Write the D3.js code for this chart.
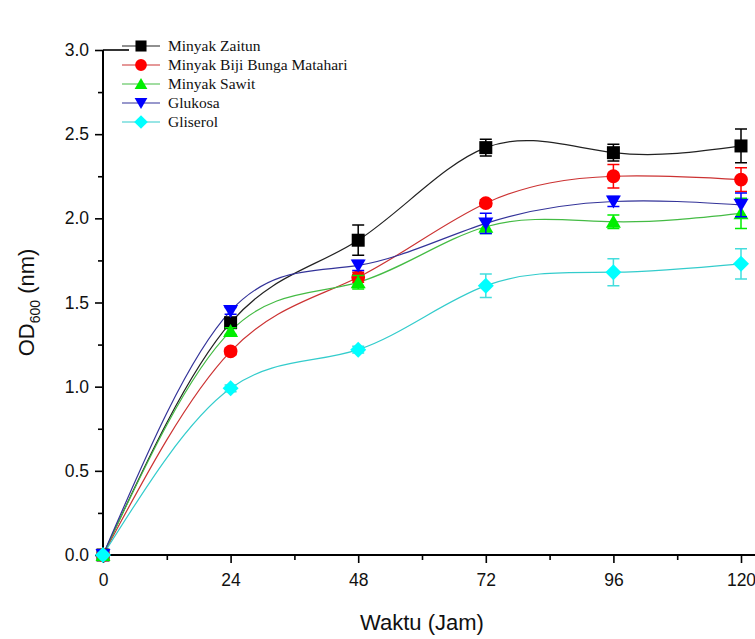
<!DOCTYPE html>
<html>
<head>
<meta charset="utf-8">
<script src="https://cdn.jsdelivr.net/npm/d3@7"></script>
<style>
  body { margin: 0; background: #fff; }
  svg { display: block; }
</style>
</head>
<body>
<div id="chart"></div>
<script>
// Data
var hours = [0, 24, 48, 72, 96, 120];
var seriesNames = ["Minyak Zaitun", "Minyak Biji Bunga Matahari", "Minyak Sawit", "Glukosa", "Gliserol"];
var zaitun = [0, 1.38, 1.87, 2.42, 2.39, 2.43];
var zaitunErr = [0, 0.03, 0.09, 0.05, 0.05, 0.10];
var bijiBunga = [0, 1.21, 1.65, 2.09, 2.25, 2.23];
var bijiBungaErr = [0, 0.02, 0.03, 0.02, 0.07, 0.07];
var sawit = [0, 1.33, 1.62, 1.95, 1.98, 2.03];
var sawitErr = [0, 0.02, 0.04, 0.04, 0.04, 0.09];
var glukosa = [0, 1.45, 1.72, 1.97, 2.10, 2.08];
var glukosaErr = [0, 0.02, 0.03, 0.06, 0.03, 0.07];
var gliserol = [0, 0.99, 1.22, 1.60, 1.68, 1.73];
var gliserolErr = [0, 0.02, 0.02, 0.07, 0.08, 0.09];
var xTicks = [0, 24, 48, 72, 96, 120];
var yTicks = [0, 0.5, 1.0, 1.5, 2.0, 2.5, 3.0];

var width = 755, height = 639;
var margin = {left: 103, top: 50, bottom: 84};
var sansFont = "'Liberation Sans', Arial, sans-serif";
var serifFont = "'Liberation Serif', 'Times New Roman', serif";

var svg = d3.select("#chart").append("svg")
  .attr("width", width)
  .attr("height", height);

var x = d3.scaleLinear().domain([0, 120]).range([margin.left, 741]);
var y = d3.scaleLinear().domain([0, 3]).range([height - margin.bottom, margin.top]);

// series styling
var series = [
  {name: seriesNames[0], values: zaitun, err: zaitunErr, color: "#000000", line: "#222222", shape: "square"},
  {name: seriesNames[1], values: bijiBunga, err: bijiBungaErr, color: "#ff0000", line: "#cc3333", shape: "circle"},
  {name: seriesNames[2], values: sawit, err: sawitErr, color: "#00ee00", line: "#44bb44", shape: "triangle"},
  {name: seriesNames[3], values: glukosa, err: glukosaErr, color: "#0000ff", line: "#333399", shape: "down"},
  {name: seriesNames[4], values: gliserol, err: gliserolErr, color: "#00ffff", line: "#33cccc", shape: "diamond"}
];

function markerPath(shape) {
  if (shape === "square") return "M-6.5,-6.5H6.5V6.5H-6.5Z";
  if (shape === "circle") return d3.symbol(d3.symbolCircle, 150)();
  if (shape === "triangle") return "M0,-7L7.5,6H-7.5Z";
  if (shape === "down") return "M0,7L7.5,-6H-7.5Z";
  return "M0,-8L8,0L0,8L-8,0Z";
}

// Axes
var xAxis = d3.axisBottom(x).tickValues(xTicks).tickSize(8).tickPadding(11).tickFormat(d3.format("d"));
var xMinor = d3.axisBottom(x).tickValues([12, 36, 60, 84, 108]).tickSize(5).tickFormat("");
var yAxis = d3.axisLeft(y).tickValues(yTicks).tickSize(8).tickPadding(6).tickFormat(d3.format(".1f"));
var yMinor = d3.axisLeft(y).tickValues([0.25, 0.75, 1.25, 1.75, 2.25, 2.75]).tickSize(5).tickFormat("");

svg.append("g").attr("transform", `translate(0,${y(0)})`).call(xAxis);
svg.append("g").attr("transform", `translate(0,${y(0)})`).call(xMinor);
svg.append("g").attr("transform", `translate(${x(0)},0)`).call(yAxis);
svg.append("g").attr("transform", `translate(${x(0)},0)`).call(yMinor);

svg.selectAll(".domain").remove();
svg.selectAll(".tick line").attr("stroke", "#000").attr("stroke-width", 1.6);
svg.selectAll(".tick text")
  .attr("font-family", sansFont)
  .attr("font-size", 17.5)
  .attr("fill", "#111");

// axis lines
svg.append("line")
  .attr("x1", x(0)).attr("x2", width)
  .attr("y1", y(0)).attr("y2", y(0))
  .attr("stroke", "#000").attr("stroke-width", 2);
svg.append("line")
  .attr("x1", x(0)).attr("x2", x(0))
  .attr("y1", y(0) + 1).attr("y2", y(3))
  .attr("stroke", "#000").attr("stroke-width", 2);
svg.append("line")
  .attr("x1", x(0)).attr("x2", x(0) + 26)
  .attr("y1", y(3)).attr("y2", y(3))
  .attr("stroke", "#000").attr("stroke-width", 1.6);

// Axis titles
svg.append("text")
  .attr("x", 422).attr("y", 630)
  .attr("text-anchor", "middle")
  .attr("font-family", sansFont)
  .attr("font-size", 22)
  .attr("fill", "#111")
  .text("Waktu (Jam)");

var yt = svg.append("text")
  .attr("transform", `translate(34,${y(1.5)}) rotate(-90)`)
  .attr("text-anchor", "middle")
  .attr("font-family", sansFont)
  .attr("font-size", 22)
  .attr("fill", "#111");
yt.append("tspan").text("OD");
yt.append("tspan").attr("font-size", 14).attr("dy", 6).text("600");
yt.append("tspan").attr("dy", -6).text(" (nm)");

// Curves
var line = d3.line()
  .x((d, i) => x(hours[i]))
  .y(d => y(d))
  .curve(d3.curveNatural);

var plot = svg.append("g");

series.forEach(function(s) {
  plot.append("path")
    .attr("d", line(s.values))
    .attr("fill", "none")
    .attr("stroke", s.line)
    .attr("stroke-width", 1.2);
});

series.forEach(function(s) {
  var g = plot.append("g");
  s.values.forEach(function(v, i) {
    var e = s.err[i];
    if (e > 0) {
      var cx = x(hours[i]);
      g.append("path")
        .attr("d", `M${cx},${y(v - e)}V${y(v + e)}M${cx - 6},${y(v - e)}H${cx + 6}M${cx - 6},${y(v + e)}H${cx + 6}`)
        .attr("stroke", s.color === "#00ffff" ? "#44dddd" : s.color)
        .attr("stroke-width", 1.5)
        .attr("fill", "none");
    }
    g.append("path")
      .attr("transform", `translate(${x(hours[i])},${y(v)})`)
      .attr("d", markerPath(s.shape))
      .attr("fill", s.color);
  });
});

// Legend
var legend = svg.append("g");
series.forEach(function(s, i) {
  var ly = 46 + i * 19;
  legend.append("line")
    .attr("x1", 122).attr("x2", 160)
    .attr("y1", ly).attr("y2", ly)
    .attr("stroke", s.line).attr("stroke-width", 1.2);
  legend.append("path")
    .attr("transform", `translate(141,${ly}) scale(0.85)`)
    .attr("d", markerPath(s.shape))
    .attr("fill", s.color);
  legend.append("text")
    .attr("x", 168).attr("y", ly + 5)
    .attr("font-family", serifFont)
    .attr("font-size", 15.5)
    .attr("fill", "#111")
    .text(s.name);
});
</script>
</body>
</html>
